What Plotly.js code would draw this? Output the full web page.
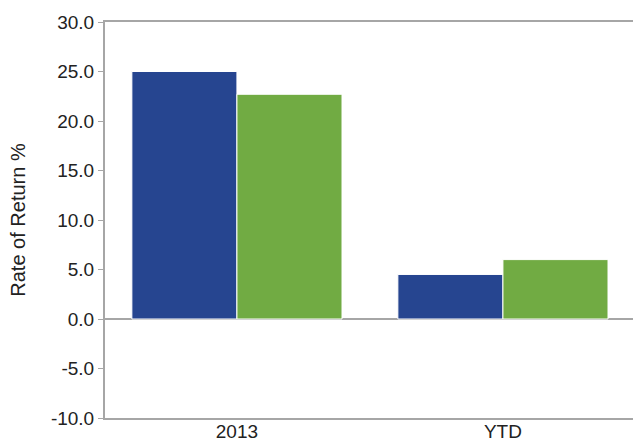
<!DOCTYPE html>
<html>
<head>
<meta charset="utf-8">
<script src="https://cdn.plot.ly/plotly-3.0.1.min.js"></script>
<style>html,body{margin:0;padding:0;background:#fff;}#chart{width:633px;height:444px;}</style>
</head>
<body>
<div id="chart"></div>
<script>
var categories = ["2013", "YTD"];
var seriesA = [25.0, 4.5];
var seriesB = [22.7, 6.0];
var yTicks = [-10, -5, 0, 5, 10, 15, 20, 25, 30];
var yTickLabels = ["-10.0", "-5.0", "0.0", "5.0", "10.0", "15.0", "20.0", "25.0", "30.0"];

var traces = [
  {type: "bar", x: categories, y: seriesA, name: "A",
   marker: {color: "#264590", line: {color: "#ffffff", width: 1}}},
  {type: "bar", x: categories, y: seriesB, name: "B",
   marker: {color: "#71ab43", line: {color: "#ffffff", width: 1}}}
];

var fam = "Liberation Sans, Arial, sans-serif";
var layout = {
  width: 633, height: 444,
  margin: {l: 105, r: 0, t: 22, b: 26},
  paper_bgcolor: "#ffffff", plot_bgcolor: "#ffffff",
  showlegend: false,
  barmode: "group", bargap: 0.21, bargroupgap: 0.0,
  font: {family: fam, color: "#222222"},
  xaxis: {
    type: "category", range: [-0.496, 1.489],
    showline: true, mirror: true, linecolor: "#a6a6a6", linewidth: 2,
    showgrid: false, zeroline: false, ticks: "",
    tickfont: {size: 19, color: "#222222", family: fam},
    ticklabelstandoff: -5
  },
  yaxis: {
    range: [-10, 30], tickvals: yTicks, ticktext: yTickLabels,
    showline: true, linecolor: "#a6a6a6", linewidth: 2,
    ticks: "outside", ticklen: 5, tickcolor: "#a6a6a6", tickwidth: 1,
    showgrid: false, zeroline: true, zerolinecolor: "#a6a6a6", zerolinewidth: 2,
    tickfont: {size: 19, color: "#222222", family: fam},
    title: {text: "Rate of Return %", font: {size: 20, color: "#222222", family: fam}, standoff: 20}
  }
};

Plotly.newPlot("chart", traces, layout, {displayModeBar: false, staticPlot: true});
</script>
</body>
</html>
